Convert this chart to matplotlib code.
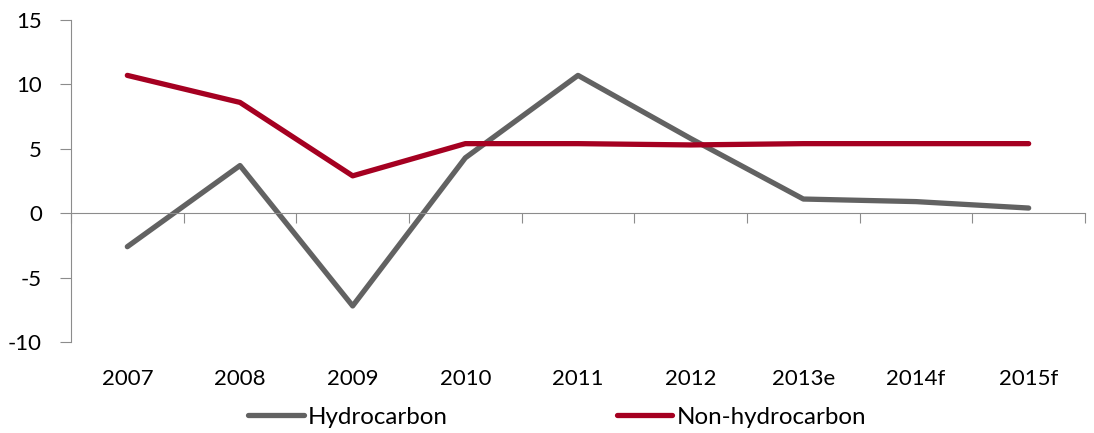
import matplotlib
matplotlib.use("Agg")
import matplotlib.pyplot as plt
import numpy as np

categories = ["2007", "2008", "2009", "2010", "2011", "2012", "2013e", "2014f", "2015f"]
hydrocarbon = [-2.6, 3.7, -7.2, 4.3, 10.7, 5.8, 1.1, 0.9, 0.4]
non_hydrocarbon = [10.7, 8.6, 2.9, 5.4, 5.4, 5.3, 5.4, 5.4, 5.4]
y_ticks = [-10, -5, 0, 5, 10, 15]

plt.rcParams['font.family'] = ['Lato', 'DejaVu Sans']

fig = plt.figure(figsize=(10.94, 4.33), dpi=100)
ax = fig.add_axes([71/1094, 1-342/433, (1085-71)/1094, (342-20)/433])

x = np.arange(len(categories))
gray = "#626262"
red = "#A50021"
l1, = ax.plot(x, hydrocarbon, color=gray, lw=3.8, solid_capstyle='round', label="Hydrocarbon")
l2, = ax.plot(x, non_hydrocarbon, color=red, lw=3.8, solid_capstyle='round', label="Non-hydrocarbon")

ax.set_xlim(-0.5, len(categories) - 0.5)
ax.set_ylim(-10, 15)
ax.set_yticks(y_ticks)
ax.set_yticklabels([str(v) for v in y_ticks], fontsize=16)
spine_c = "#8c8c8c"
ax.spines['top'].set_visible(False)
ax.spines['right'].set_visible(False)
ax.spines['left'].set_color(spine_c)
ax.spines['bottom'].set_color(spine_c)
ax.spines['bottom'].set_position(('data', 0))
ax.tick_params(axis='y', direction='out', length=8, color=spine_c, pad=13)
ax.set_xticks(np.arange(len(categories) + 1) - 0.5)
ax.set_xticklabels([])
ax.tick_params(axis='x', direction='out', length=7, color=spine_c)

for xi, c in zip(x, categories):
    ax.text(xi, -0.115, c, transform=ax.get_xaxis_transform(), ha='center', va='center', fontsize=16)

fig.legend(handles=[l1, l2], loc='center', bbox_to_anchor=(557/1094, 1-417/433), ncol=2,
           frameon=False, fontsize=17.4, handlelength=2.3, handletextpad=0.17, columnspacing=7.0,
           borderaxespad=0, borderpad=0)

fig.savefig("out.png", dpi=100)
